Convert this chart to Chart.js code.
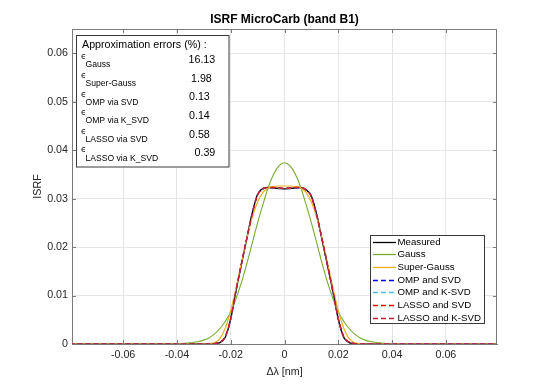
<!DOCTYPE html>
<html><head><meta charset="utf-8">
<script src="https://cdn.jsdelivr.net/npm/chart.js@4"></script>
<style>html,body{margin:0;padding:0;background:#fff}#wrap{width:550px;height:387px;position:relative}</style>
</head><body><div id="wrap"><canvas id="c" width="550" height="387"></canvas></div>
<script>
// ---- data ----
const deltaLambda = [-0.08,-0.06,-0.04,-0.038,-0.036,-0.034,-0.032,-0.03,-0.028,-0.026,-0.024,-0.022,-0.02,-0.018,-0.016,-0.014,-0.012,-0.01,-0.008,-0.006,-0.004,-0.002,0,0.002,0.004,0.006,0.008,0.01,0.012,0.014,0.016,0.018,0.02,0.022,0.024,0.026,0.028,0.03,0.032,0.034,0.036,0.038,0.04,0.06,0.08];
const measured  = [0,0,0,0,0,0,0,0,0,0.0001,0.0003,0.0014,0.0052,0.0111,0.0165,0.0218,0.0270,0.0309,0.0321,0.0323,0.0322,0.0321,0.0320,0.0321,0.0322,0.0323,0.0318,0.0305,0.0266,0.0214,0.0162,0.0109,0.0051,0.0014,0.0003,0.0001,0,0,0,0,0,0,0,0,0];
const gauss     = [0,0,0,0.0001,0.0002,0.0003,0.0005,0.0008,0.0013,0.0021,0.0032,0.0047,0.0066,0.0094,0.0127,0.0166,0.0208,0.0250,0.0288,0.0324,0.0351,0.0368,0.0374,0.0368,0.0351,0.0324,0.0288,0.0250,0.0208,0.0166,0.0127,0.0094,0.0066,0.0047,0.0032,0.0021,0.0013,0.0008,0.0005,0.0003,0.0002,0.0001,0,0,0];
const superGauss= [0,0,0,0,0,0,0,0,0.0001,0.0003,0.0011,0.0033,0.0069,0.0116,0.0168,0.0218,0.0261,0.0293,0.0313,0.0322,0.0325,0.0326,0.0326,0.0326,0.0325,0.0322,0.0313,0.0293,0.0261,0.0218,0.0168,0.0116,0.0069,0.0033,0.0011,0.0003,0.0001,0,0,0,0,0,0,0,0];
const ompSvd    = [0,0,0,0,0,0,0,0,0,0.0001,0.0004,0.0015,0.0051,0.0110,0.0166,0.0219,0.0269,0.0308,0.0320,0.0323,0.0322,0.0321,0.0321,0.0321,0.0322,0.0322,0.0318,0.0304,0.0266,0.0215,0.0162,0.0108,0.0052,0.0015,0.0004,0.0001,0,0,0,0,0,0,0,0,0];
const ompKsvd   = [0,0,0,0,0,0,0,0,0,0.0001,0.0004,0.0014,0.0052,0.0110,0.0165,0.0218,0.0269,0.0309,0.0320,0.0322,0.0322,0.0321,0.0320,0.0321,0.0322,0.0322,0.0318,0.0305,0.0266,0.0214,0.0163,0.0109,0.0052,0.0014,0.0004,0.0001,0,0,0,0,0,0,0,0,0];
const lassoSvd  = [0,0,0,0,0,0,0,0,0,0.0001,0.0004,0.0016,0.0053,0.0111,0.0166,0.0218,0.0268,0.0307,0.0320,0.0323,0.0323,0.0322,0.0321,0.0322,0.0323,0.0323,0.0319,0.0304,0.0265,0.0215,0.0163,0.0109,0.0053,0.0016,0.0004,0.0001,0,0,0,0,0,0,0,0,0];
const lassoKsvd = [0,0,0,0,0,0,0,0,0,0.0001,0.0004,0.0015,0.0052,0.0111,0.0165,0.0218,0.0269,0.0308,0.0321,0.0323,0.0322,0.0322,0.0321,0.0322,0.0322,0.0323,0.0318,0.0305,0.0266,0.0215,0.0162,0.0109,0.0052,0.0015,0.0004,0.0001,0,0,0,0,0,0,0,0,0];

const seriesNames = ['Measured','Gauss','Super-Gauss','OMP and SVD','OMP and K-SVD','LASSO and SVD','LASSO and K-SVD'];
const xTicks = [-0.06,-0.04,-0.02,0,0.02,0.04,0.06];
const xTickLabels = ['-0.06','-0.04','-0.02','0','0.02','0.04','0.06'];
const yTicks = [0,0.01,0.02,0.03,0.04,0.05,0.06];
const yTickLabels = ['0','0.01','0.02','0.03','0.04','0.05','0.06'];
const errorLabels = ['Gauss','Super-Gauss','OMP via SVD','OMP via K_SVD','LASSO via SVD','LASSO via K_SVD'];
const errorValues = ['16.13','1.98','0.13','0.14','0.58','0.39'];
const chartTitle = 'ISRF MicroCarb (band B1)';
const xTitle = 'Δλ [nm]';
const yTitle = 'ISRF';
const boxTitle = 'Approximation errors (%) :';

// ---- styles ----
const FONT = "'Liberation Sans', Arial, Helvetica, sans-serif";
const colors = ['#000000','#77AC30','#EDB120','#0000FF','#4DBEEE','#FF0000','#C0203A'];
const dashes = [[],[],[],[5,3],[5,3],[5,3],[5,3]];
const widths = [1.4,1.1,1.2,1.2,1.2,1.2,1.2];
const allSeries = [measured,gauss,superGauss,ompSvd,ompKsvd,lassoSvd,lassoKsvd];

const datasets = allSeries.map((s,k)=>({
  label: seriesNames[k],
  data: deltaLambda.map((x,i)=>({x:x,y:s[i]})),
  borderColor: colors[k],
  backgroundColor: colors[k],
  borderWidth: widths[k],
  borderDash: dashes[k],
  pointRadius: 0,
  fill: false,
  cubicInterpolationMode: 'monotone',
  order: 7-k
}));

const AXIS = '#7a7a7a';
const decor = {
  id:'decor',
  afterDraw(chart){
    const ctx = chart.ctx, a = chart.chartArea;
    const xs = chart.scales.x, ys = chart.scales.y;
    ctx.save();
    // box top/right
    ctx.strokeStyle = AXIS; ctx.lineWidth = 1;
    ctx.beginPath();
    ctx.moveTo(a.left, Math.round(a.top)+0.5); ctx.lineTo(a.right, Math.round(a.top)+0.5);
    ctx.moveTo(Math.round(a.right)-0.5, a.top); ctx.lineTo(Math.round(a.right)-0.5, a.bottom);
    ctx.stroke();
    // inward ticks
    ctx.beginPath();
    xTicks.forEach(v=>{ const px = Math.round(xs.getPixelForValue(v))+0.5;
      ctx.moveTo(px,a.bottom); ctx.lineTo(px,a.bottom-4);
      ctx.moveTo(px,a.top); ctx.lineTo(px,a.top+4); });
    yTicks.forEach(v=>{ const py = Math.round(ys.getPixelForValue(v))+0.5;
      ctx.moveTo(a.left,py); ctx.lineTo(a.left+4,py);
      ctx.moveTo(a.right,py); ctx.lineTo(a.right-4,py); });
    ctx.stroke();

    // title
    ctx.fillStyle = '#000';
    ctx.font = 'bold 12px ' + FONT;
    ctx.textAlign = 'center'; ctx.textBaseline = 'middle';
    ctx.fillText(chartTitle, (a.left+a.right)/2, 20);
    // axis titles
    ctx.fillStyle = '#262626';
    ctx.font = '10.7px ' + FONT;
    ctx.fillText(xTitle, (a.left+a.right)/2, 372);
    ctx.save();
    ctx.translate(38, (a.top+a.bottom)/2);
    ctx.rotate(-Math.PI/2);
    ctx.fillText(yTitle, 0, 0);
    ctx.restore();

    // error text box
    ctx.fillStyle = '#fff';
    ctx.fillRect(76.5,35.5,152.5,131.5);
    ctx.strokeStyle = '#3a3a3a'; ctx.lineWidth = 1;
    ctx.strokeRect(76.5,35.5,152.5,131.5);
    ctx.fillStyle = '#000';
    ctx.textAlign = 'left'; ctx.textBaseline = 'middle';
    ctx.font = '10.7px ' + FONT;
    ctx.fillText(boxTitle, 82, 45);
    errorLabels.forEach((lab,i)=>{
      const yc = 65 + 18.65*i;
      ctx.font = "8.5px 'DejaVu Sans', sans-serif";
      ctx.fillText('\u03F5', 81, yc-8);
      ctx.font = '8.6px ' + FONT;
      ctx.fillText(lab, 85.5, yc);
      ctx.font = '10.7px ' + FONT;
      const nx = errorValues[i].length===5 ? 188.5 : (i===5 ? 194.5 : (i===1 ? 191 : 189));
      ctx.fillText(errorValues[i], nx, yc-5);
    });

    // legend
    ctx.fillStyle = '#fff';
    ctx.fillRect(370.5,235.5,114,88);
    ctx.strokeStyle = '#3a3a3a';
    ctx.strokeRect(370.5,235.5,114,88);
    ctx.font = '9.7px ' + FONT;
    seriesNames.forEach((n,k)=>{
      const y = 241.5 + 12.7*k;
      ctx.strokeStyle = colors[k]; ctx.lineWidth = 1.3;
      ctx.setLineDash(dashes[k]);
      ctx.beginPath(); ctx.moveTo(373,Math.round(y)+0.5); ctx.lineTo(396,Math.round(y)+0.5); ctx.stroke();
      ctx.setLineDash([]);
      ctx.fillStyle = '#000';
      ctx.fillText(n, 397.5, y+0.5);
    });
    ctx.restore();
  }
};

new Chart(document.getElementById('c'), {
  type: 'line',
  data: { datasets: datasets },
  options: {
    responsive: false,
    animation: false,
    events: [],
    layout: { padding: { left: 0, right: 53, top: 29, bottom: 0 } },
    plugins: { legend: { display: false }, title: { display: false }, tooltip: { enabled: false } },
    scales: {
      x: {
        type: 'linear', min: -0.079, max: 0.079,
        afterBuildTicks: s => { s.ticks = xTicks.map(v=>({value:v})); },
        afterFit: s => { s.height = 43; },
        ticks: { padding: 5, color: '#262626', font: { family: FONT, size: 10.7 },
          callback: (v) => { const i = xTicks.findIndex(t=>Math.abs(t-v)<1e-9); return i>=0 ? xTickLabels[i] : ''; } },
        grid: { color: '#e6e6e6', lineWidth: 1, drawTicks: false },
        border: { display: true, color: AXIS, width: 1 }
      },
      y: {
        type: 'linear', min: 0, max: 0.065,
        afterBuildTicks: s => { s.ticks = yTicks.map(v=>({value:v})); },
        afterFit: s => { s.width = 72; },
        ticks: { padding: 4, color: '#262626', font: { family: FONT, size: 10.7 },
          callback: (v) => { const i = yTicks.findIndex(t=>Math.abs(t-v)<1e-9); return i>=0 ? yTickLabels[i] : ''; } },
        grid: { color: '#e6e6e6', lineWidth: 1, drawTicks: false },
        border: { display: true, color: AXIS, width: 1 }
      }
    }
  },
  plugins: [decor]
});
</script>
</body></html>
